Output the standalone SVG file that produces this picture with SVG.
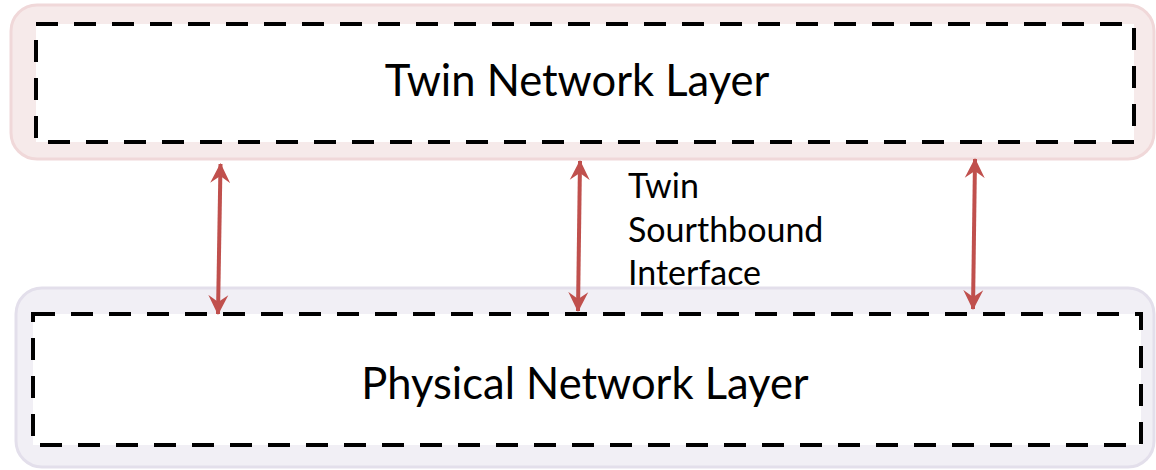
<svg xmlns="http://www.w3.org/2000/svg" width="1156" height="470" viewBox="0 0 1156 470">
<style>
.title{font-family:Lato,"Liberation Sans",sans-serif;font-size:43.5px;fill:#000;text-anchor:middle}
.lbl{font-family:Lato,"Liberation Sans",sans-serif;font-size:34px;fill:#000}
.dash{fill:#fff;stroke:#000;stroke-width:4;stroke-dasharray:22 16}
.arr{stroke:#c0504d;stroke-width:4;fill:none;marker-start:url(#ah);marker-end:url(#ah)}
</style>
<defs>
<marker id="ah" viewBox="0 0 10 10" refX="9.5" refY="5" markerWidth="5" markerHeight="6" orient="auto-start-reverse" markerUnits="strokeWidth">
<path d="M0,0 L10,5 L0,10 L3.5,5 Z" fill="#c0504d"/>
</marker>
</defs>
<g id="twin-layer">
<rect x="11" y="5" width="1143" height="154" rx="26" fill="#f6eaea" stroke="#f0d8d9" stroke-width="3"/>
<rect class="dash" x="36" y="24" width="1098" height="118"/>
<text class="title" x="577" y="96">Twin Network Layer</text>
</g>
<g id="physical-layer">
<rect x="16" y="288" width="1138" height="179" rx="26" fill="#f1eff5" stroke="#e3dfeb" stroke-width="3"/>
<rect class="dash" x="33" y="314" width="1108" height="131"/>
<text class="title" x="585" y="399">Physical Network Layer</text>
</g>
<g id="connectors">
<line class="arr" x1="220.5" y1="164" x2="218" y2="314"/>
<line class="arr" x1="580" y1="161" x2="578" y2="311"/>
<line class="arr" x1="975" y1="159" x2="973" y2="309"/>
</g>
<g id="label">
<text class="lbl" x="628" y="198">Twin</text>
<text class="lbl" x="628" y="242">Sourthbound</text>
<text class="lbl" x="628" y="285">Interface</text>
</g>
</svg>
